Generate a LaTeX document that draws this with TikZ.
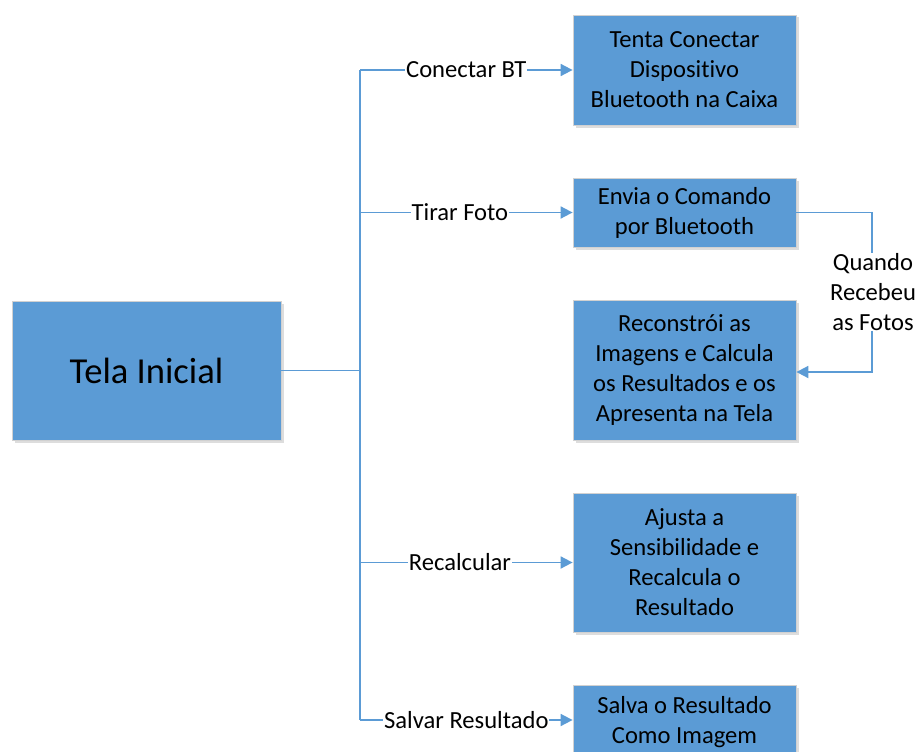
\documentclass[tikz,border=0pt]{standalone}
\usepackage{fontspec}
\setmainfont[Ligatures={NoCommon}]{Carlito}
\usetikzlibrary{arrows.meta,shadows}
\definecolor{blu}{HTML}{5B9BD5}
\begin{document}
\begin{tikzpicture}[x=1pt,y=-1pt,
  box/.style={rectangle, fill=blu, draw=black!18, line width=0.8pt, align=center,
    minimum width=223pt, inner sep=0pt,
    font=\fontsize{24.6}{30}\selectfont,
    drop shadow={shadow xshift=2.5pt, shadow yshift=-2.5pt, fill=black!22, opacity=0.6}},
  conn/.style={draw=blu, line width=1.8pt},
  arr/.style={conn, -{Triangle[length=12pt,width=12pt]}},
  lbl/.style={fill=white, inner sep=1pt, font=\fontsize{24.6}{30}\selectfont, align=center}]
\useasboundingbox (0,0) rectangle (918,752);
\node[box, minimum width=269pt, minimum height=139pt, font=\fontsize{36.6}{44}\selectfont] (tela) at (146.5,370.5) {Tela Inicial};
\node[box, minimum height=110pt] (b1) at (684.5,70) {Tenta Conectar\\Dispositivo\\Bluetooth na Caixa};
\node[box, minimum height=69pt] (b2) at (684.5,212.5) {Envia o Comando\\por Bluetooth};
\node[box, minimum height=140pt] (b3) at (684.5,370) {Reconstrói as\\Imagens e Calcula\\os Resultados e os\\Apresenta na Tela};
\node[box, minimum height=139pt] (b4) at (684.5,562.5) {Ajusta a\\Sensibilidade e\\Recalcula o\\Resultado};
\node[box, minimum height=74pt] (b5) at (684.5,722) {Salva o Resultado\\Como Imagem};
\coordinate (j0) at (360,370.5);
\coordinate (j1) at (360,70);
\coordinate (j2) at (360,212.5);
\coordinate (j4) at (360,562.5);
\coordinate (j5) at (360,720);
\draw[conn] (tela.east) -- (j0);
\draw[conn] (j1) -- (j5);
\draw[arr] (j1) -- node[lbl] {Conectar BT} (b1.west);
\draw[arr] (j2) -- node[lbl, pos=0.47] {Tirar Foto} (b2.west);
\draw[arr] (j4) -- node[lbl, pos=0.47] {Recalcular} (b4.west);
\draw[arr] (j5) -- node[lbl] {Salvar Resultado} (b5.west |- j5);
\coordinate (f1) at (872,212.5);
\coordinate (f2) at (872,372);
\node[lbl, inner sep=0pt] (q) at (873,292) {Quando\\Recebeu\\as Fotos};
\draw[conn] (b2.east) -- (f1) -- (f1 |- q.north);
\draw[arr] (f2 |- q.south) -- (f2) -- (b3.east |- f2);
\end{tikzpicture}
\end{document}
